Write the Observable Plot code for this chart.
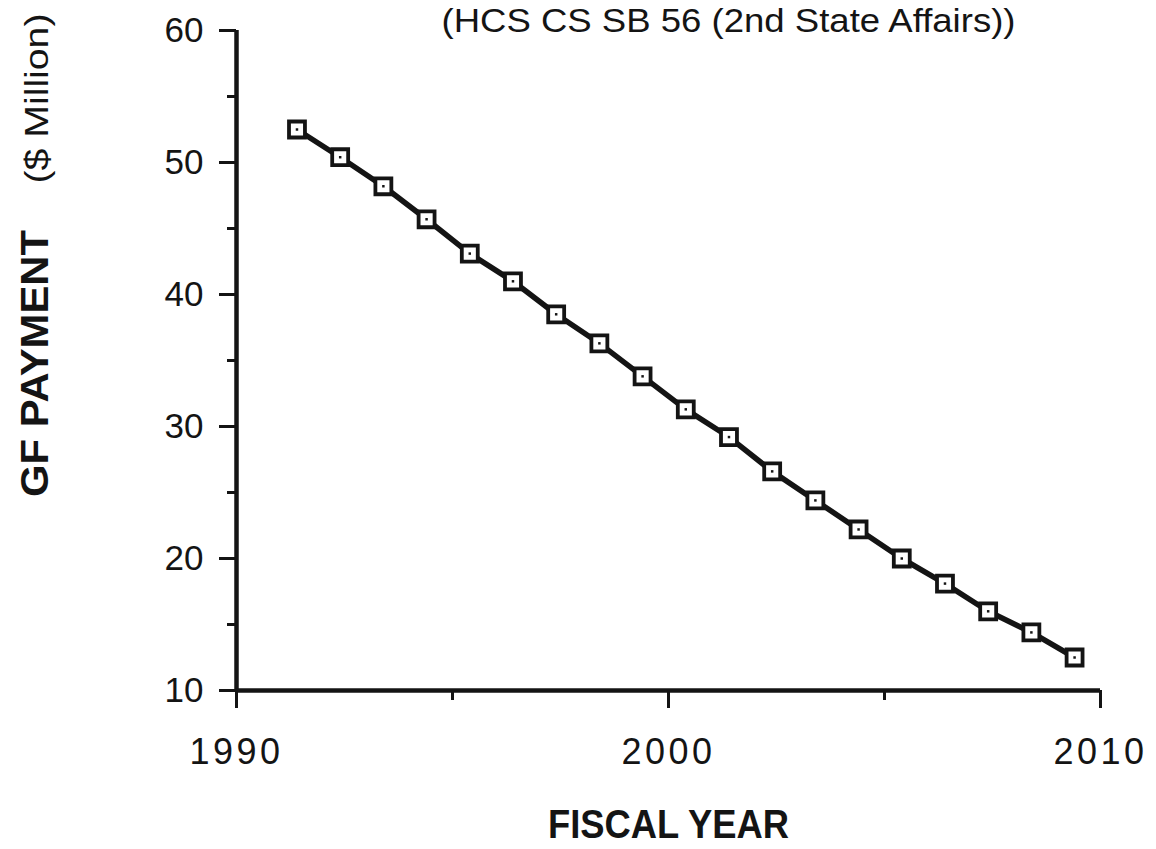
<!DOCTYPE html>
<html>
<head>
<meta charset="utf-8">
<script src="https://cdn.jsdelivr.net/npm/d3@7"></script>
<script src="https://cdn.jsdelivr.net/npm/@observablehq/plot@0.6"></script>
<style>
html, body { margin: 0; padding: 0; background: #ffffff; }
#chart svg { display: block; }
g[aria-label="x-axis tick label"] text { letter-spacing: 3.5px; }
</style>
</head>
<body>
<div id="chart"></div>
<script>
// ---- data ----
const fiscalYears = [1991.4, 1992.4, 1993.4, 1994.4, 1995.4, 1996.4, 1997.4, 1998.4, 1999.4, 2000.4,
                     2001.4, 2002.4, 2003.4, 2004.4, 2005.4, 2006.4, 2007.4, 2008.4, 2009.4];
const gfPayment = [52.5, 50.4, 48.2, 45.7, 43.1, 41.0, 38.5, 36.3, 33.8, 31.3,
                   29.2, 26.6, 24.4, 22.2, 20.0, 18.1, 16.0, 14.4, 12.5];
const yMajorTicks = [10, 20, 30, 40, 50, 60];
const yMinorTicks = [15, 25, 35, 45, 55];
const xMajorTicks = [1990, 2000, 2010];
const xMinorTicks = [1995, 2005];
const titleText = "(HCS CS SB 56 (2nd State Affairs))";
const yLabelMain = "GF PAYMENT";
const yLabelUnit = "($ Million)";
const xLabel = "FISCAL YEAR";

const data = fiscalYears.map((year, i) => ({year, payment: gfPayment[i]}));
const ink = "#141414";
const font = "'Liberation Sans', Arial, Helvetica, sans-serif";

const chart = Plot.plot({
  width: 1156,
  height: 849,
  marginLeft: 236,
  marginRight: 56,
  marginTop: 30,
  marginBottom: 159,
  style: {fontFamily: font, color: ink, background: "#ffffff"},
  x: {domain: [1990, 2010]},
  y: {domain: [10, 60]},
  marks: [
    Plot.ruleX([1990], {stroke: ink, strokeWidth: 4.5}),
    Plot.ruleY([10], {stroke: ink, strokeWidth: 4.5}),
    Plot.axisY({ticks: yMajorTicks, tickSize: 17, tickPadding: 16, fontSize: 35, strokeWidth: 3, color: ink, label: null}),
    Plot.axisY({ticks: yMinorTicks, tickSize: 9, tickFormat: () => "", strokeWidth: 3, color: ink, label: null}),
    Plot.axisX({ticks: xMajorTicks, tickSize: 18, tickPadding: 30, fontSize: 36, strokeWidth: 3, color: ink, label: null, tickFormat: d => String(d)}),
    Plot.axisX({ticks: xMinorTicks, tickSize: 10, tickFormat: () => "", strokeWidth: 3, color: ink, label: null}),
    Plot.line(data, {x: "year", y: "payment", stroke: ink, strokeWidth: 5.5}),
    Plot.dot(data, {x: "year", y: "payment", symbol: "square", r: 9, fill: "white", stroke: ink, strokeWidth: 3.8}),
    Plot.dot(data, {x: "year", y: "payment", symbol: "square", r: 1.4, fill: ink}),
    Plot.text([titleText], {text: d => d, frameAnchor: "top", dx: 60, dy: 1, lineAnchor: "bottom", fontSize: 34, fill: ink}),
    Plot.text([xLabel], {text: d => d, frameAnchor: "bottom", dy: 147, lineAnchor: "bottom", fontSize: 41, fontWeight: "bold", fill: ink}),
    Plot.text([yLabelMain], {text: d => d, frameAnchor: "top-left", dx: -189, dy: 333, rotate: -90, textAnchor: "middle", lineAnchor: "bottom", fontSize: 38, fontWeight: "bold", fill: ink}),
    Plot.text([yLabelUnit], {text: d => d, frameAnchor: "top-left", dx: -189, dy: 68, rotate: -90, textAnchor: "middle", lineAnchor: "bottom", fontSize: 34, fill: ink})
  ]
});

// stretch / condense the labels to the widths measured in the reference
const fitWidths = new Map([
  [titleText, 574],
  [xLabel, 241],
  [yLabelMain, 267],
  [yLabelUnit, 170]
]);
chart.querySelectorAll("text").forEach(t => {
  const len = fitWidths.get(t.textContent);
  if (len) {
    t.setAttribute("textLength", len);
    t.setAttribute("lengthAdjust", "spacingAndGlyphs");
  }
});

document.getElementById("chart").appendChild(chart);
</script>
</body>
</html>
